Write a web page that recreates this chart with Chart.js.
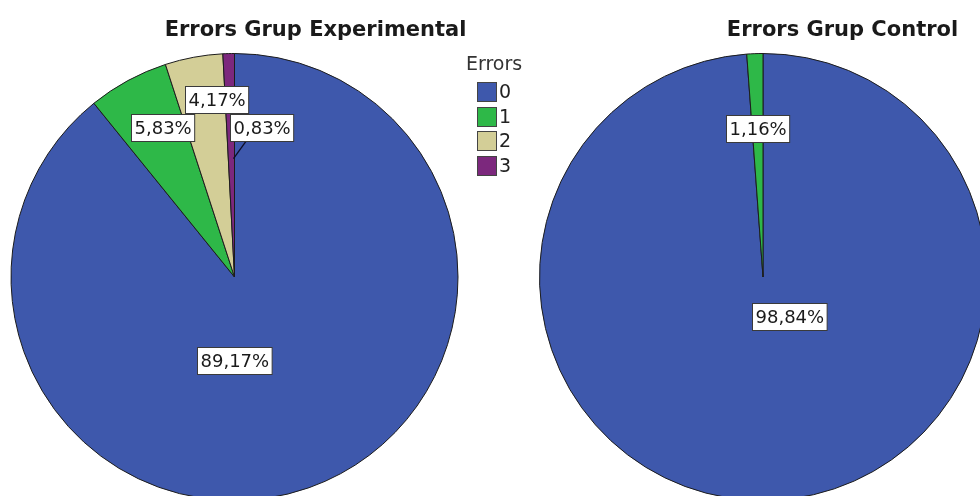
<!DOCTYPE html>
<html>
<head>
<meta charset="utf-8">
<script src="https://cdn.jsdelivr.net/npm/chart.js@4/dist/chart.umd.min.js"></script>
<style>
  html, body { margin: 0; padding: 0; background: #ffffff; }
  body { position: relative; width: 980px; height: 496px; overflow: hidden; }
  canvas { position: absolute; top: 0; }
  #leftPie { left: 0px; }
  #rightPie { left: 528px; }
</style>
</head>
<body>
<canvas id="leftPie" width="540" height="530" style="width:540px;height:530px"></canvas>
<canvas id="rightPie" width="540" height="530" style="width:540px;height:530px"></canvas>
<script>
// ---- data ----
const categories = ['0', '1', '2', '3'];
const categoryColors = ['#3E58AC', '#2EB848', '#D3CE97', '#7C287D'];
const legendTitle = 'Errors';
const experimentalTitle = 'Errors Grup Experimental';
const controlTitle = 'Errors Grup Control';
const experimentalValues = [89.17, 5.83, 4.17, 0.83];
const controlValues = [98.84, 1.16];

// ---- label placement (polar, relative to pie centre; angle clockwise from top) ----
const experimentalLabelPlacement = [
  { angle: 180, r: 0.373 },
  { angle: 334.3, r: 0.741 },
  { angle: 354.2, r: 0.799 },
  { angle: 10.4, r: 0.679, leader: { angle: 359.5, r: 0.53 } }
];
const controlLabelPlacement = [
  { angle: 146.6, r: 0.211 },
  { angle: 357.9, r: 0.666 }
];

const fmt = v => v.toFixed(2).replace('.', ',') + '%';

const overlayPlugin = {
  id: 'overlay',
  afterDatasetsDraw(chart, args, opts) {
    const ctx = chart.ctx;
    const meta = chart.getDatasetMeta(0);
    const values = chart.data.datasets[0].data;
    ctx.save();
    // value labels
    ctx.font = '18px "DejaVu Sans"';
    ctx.textBaseline = 'middle';
    ctx.textAlign = 'center';
    meta.data.forEach((arc, i) => {
      const p = opts.placement[i];
      const a = p.angle * Math.PI / 180;
      const rr = arc.outerRadius * p.r;
      const x = arc.x + rr * Math.sin(a);
      const y = arc.y - rr * Math.cos(a);
      const text = fmt(values[i]);
      if (p.leader) {
        const la = p.leader.angle * Math.PI / 180;
        const lr = arc.outerRadius * p.leader.r;
        ctx.strokeStyle = '#0d0d26';
        ctx.lineWidth = 1.3;
        ctx.beginPath();
        ctx.moveTo(x - 6, y);
        ctx.lineTo(arc.x + lr * Math.sin(la), arc.y - lr * Math.cos(la));
        ctx.stroke();
      }
      const w = ctx.measureText(text).width + 6;
      const h = 27;
      const bx = Math.round(x - w / 2) + 0.5;
      const by = Math.round(y - h / 2) + 0.5;
      ctx.fillStyle = '#ffffff';
      ctx.fillRect(bx, by, w, h);
      ctx.strokeStyle = '#3a3a3a';
      ctx.lineWidth = 1;
      ctx.strokeRect(bx, by, w, h);
      ctx.fillStyle = '#1a1a1a';
      ctx.fillText(text, bx + w / 2, by + h / 2 + 1);
    });
    // title
    ctx.font = 'bold 21px "DejaVu Sans"';
    ctx.fillStyle = '#1a1a1a';
    ctx.textAlign = 'center';
    ctx.textBaseline = 'alphabetic';
    ctx.fillText(opts.title, opts.titleX, 36);
    // legend
    if (opts.legend) {
      ctx.font = '19px "DejaVu Sans"';
      ctx.fillStyle = '#333333';
      ctx.textAlign = 'center';
      ctx.textBaseline = 'middle';
      ctx.fillText(legendTitle, opts.legendX + 17, 65);
      categories.forEach((c, i) => {
        const top = 82 + i * 24.6;
        ctx.fillStyle = categoryColors[i];
        ctx.fillRect(opts.legendX + 0.5, Math.round(top) + 0.5, 19, 19);
        ctx.strokeStyle = '#444444';
        ctx.lineWidth = 1;
        ctx.strokeRect(opts.legendX + 0.5, Math.round(top) + 0.5, 19, 19);
        ctx.fillStyle = '#222222';
        ctx.textAlign = 'left';
        ctx.fillText(c, opts.legendX + 22, Math.round(top) + 11);
      });
    }
    ctx.restore();
  }
};

function makePie(id, values, padding, overlay) {
  return new Chart(document.getElementById(id), {
    type: 'pie',
    data: {
      labels: categories.slice(0, values.length),
      datasets: [{
        data: values,
        backgroundColor: categoryColors.slice(0, values.length),
        borderColor: '#1c1c1c',
        borderWidth: 1
      }]
    },
    options: {
      responsive: false,
      animation: false,
      events: [],
      layout: { padding },
      plugins: {
        legend: { display: false },
        tooltip: { enabled: false },
        title: { display: false },
        overlay
      }
    },
    plugins: [overlayPlugin]
  });
}

makePie('leftPie', experimentalValues,
  { left: 10.5, right: 81.5, top: 53, bottom: 29 },
  { title: experimentalTitle, titleX: 315.5, legend: true, legendX: 477, placement: experimentalLabelPlacement });

makePie('rightPie', controlValues,
  { left: 11, right: 81, top: 53, bottom: 29 },
  { title: controlTitle, titleX: 842.5 - 528, legend: false, placement: controlLabelPlacement });
</script>
</body>
</html>
